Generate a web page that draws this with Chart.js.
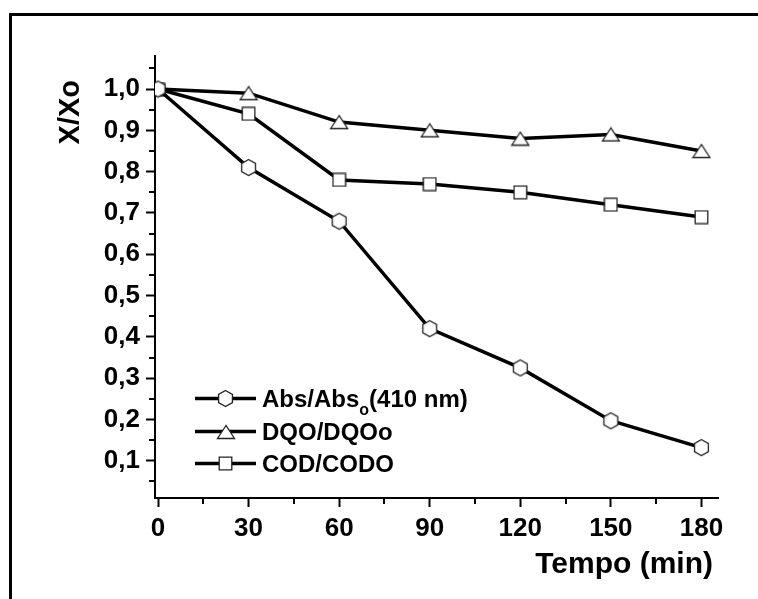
<!DOCTYPE html>
<html>
<head>
<meta charset="utf-8">
<script src="https://cdn.jsdelivr.net/npm/chart.js@4.4.1/dist/chart.umd.min.js"></script>
<style>
  html, body { margin: 0; padding: 0; background: #fff; }
  #wrap { width: 758px; height: 599px; }
</style>
</head>
<body>
<div id="wrap"><canvas id="c" width="758" height="599"></canvas></div>
<script>
// ---- data ----
const times = [0, 30, 60, 90, 120, 150, 180];
const absRatio = [1.0, 0.81, 0.68, 0.42, 0.325, 0.197, 0.132];
const dqoRatio = [1.0, 0.99, 0.92, 0.90, 0.88, 0.89, 0.85];
const codRatio = [1.0, 0.94, 0.78, 0.77, 0.75, 0.72, 0.69];
const seriesLabels = ['Abs/Abs_o(410 nm)', 'DQO/DQOo', 'COD/CODO'];
const xMajorTicks = [0, 30, 60, 90, 120, 150, 180];
const xMinorTicks = [15, 45, 75, 105, 135, 165];
const yMajorTicks = [0.1, 0.2, 0.3, 0.4, 0.5, 0.6, 0.7, 0.8, 0.9, 1.0];
const yMinorTicks = [0.05, 0.15, 0.25, 0.35, 0.45, 0.55, 0.65, 0.75, 0.85, 0.95, 1.05];
const xTitle = 'Tempo (min)';
const yTitle = 'X/Xo';

// ---- marker images ----
function makeCanvas(w, h, draw) {
  const c = document.createElement('canvas');
  c.width = w; c.height = h;
  const g = c.getContext('2d');
  g.fillStyle = '#fff';
  g.strokeStyle = '#222';
  g.lineWidth = 1.3;
  draw(g);
  return c;
}
const hexMarker = makeCanvas(19, 19, g => {
  g.beginPath();
  for (let k = 0; k < 6; k++) {
    const a = -Math.PI / 2 + k * Math.PI / 3;
    const px = 9.5 + 8 * Math.cos(a), py = 9.5 + 8 * Math.sin(a);
    k === 0 ? g.moveTo(px, py) : g.lineTo(px, py);
  }
  g.closePath(); g.fill(); g.stroke();
});
const triMarker = makeCanvas(20, 16, g => {
  g.beginPath();
  g.moveTo(10, 1.5); g.lineTo(1.5, 14.5); g.lineTo(18.5, 14.5);
  g.closePath(); g.fill(); g.stroke();
});
const sqMarker = makeCanvas(15, 15, g => {
  g.beginPath();
  g.rect(1.2, 1.2, 12.6, 12.6);
  g.fill(); g.stroke();
});
const markers = [hexMarker, triMarker, sqMarker];

const toXY = vals => times.map((t, i) => ({ x: t, y: vals[i] }));
const seriesValues = [absRatio, dqoRatio, codRatio];

const FONT = "'Liberation Sans', Arial, Helvetica, sans-serif";

const framePlugin = {
  id: 'frame',
  beforeDraw(chart) {
    const ctx = chart.ctx;
    ctx.save();
    ctx.fillStyle = '#fff';
    ctx.fillRect(0, 0, chart.width, chart.height);
    ctx.fillStyle = '#000';
    ctx.fillRect(9, 13, 3, chart.height - 13);
    ctx.fillRect(9, 13, chart.width - 9, 3);
    ctx.restore();
  }
};

const decoPlugin = {
  id: 'deco',
  afterDraw(chart) {
    const ctx = chart.ctx;
    const xs = chart.scales.x, ys = chart.scales.y;
    const area = chart.chartArea;
    ctx.save();
    // minor ticks
    ctx.strokeStyle = '#000';
    ctx.lineWidth = 2;
    ctx.beginPath();
    xMinorTicks.forEach(v => {
      const px = Math.round(xs.getPixelForValue(v));
      ctx.moveTo(px, area.bottom); ctx.lineTo(px, area.bottom + 6);
    });
    yMinorTicks.forEach(v => {
      const py = Math.round(ys.getPixelForValue(v));
      ctx.moveTo(area.left, py); ctx.lineTo(area.left - 6, py);
    });
    ctx.stroke();

    // axis titles
    ctx.fillStyle = '#000';
    ctx.font = "bold 30px " + FONT;
    ctx.textAlign = 'right';
    ctx.textBaseline = 'alphabetic';
    ctx.fillText(xTitle, area.right - 5, area.bottom + 75);

    ctx.save();
    ctx.translate(area.left - 84, area.top + 24);
    ctx.rotate(-Math.PI / 2);
    ctx.font = "bold 29px " + FONT;
    ctx.textAlign = 'right';
    ctx.textBaseline = 'middle';
    ctx.fillText(yTitle, 0, 0);
    ctx.restore();

    // legend
    const rowsY = [area.bottom - 99.5, area.bottom - 66.5, area.bottom - 34.5];
    seriesLabels.forEach((lab, i) => {
      const y = rowsY[i];
      const x0 = area.left + 40;
      ctx.strokeStyle = '#000';
      ctx.lineWidth = 3.5;
      ctx.beginPath();
      ctx.moveTo(x0, y); ctx.lineTo(x0 + 61, y);
      ctx.stroke();
      const m = markers[i];
      ctx.drawImage(m, Math.round(x0 + 30.5 - m.width / 2), Math.round(y - m.height / 2));
      // text with optional subscript
      let tx = x0 + 67;
      const base = y + 8.6;
      ctx.textAlign = 'left';
      ctx.textBaseline = 'alphabetic';
      ctx.fillStyle = '#000';
      const parts = lab.split('_');
      ctx.font = "bold 24px " + FONT;
      ctx.fillText(parts[0], tx, base);
      tx += ctx.measureText(parts[0]).width;
      if (parts.length > 1) {
        const sub = parts[1].charAt(0);
        const rest = parts[1].slice(1);
        ctx.font = "bold 16px " + FONT;
        ctx.fillText(sub, tx, base + 8);
        tx += ctx.measureText(sub).width;
        ctx.font = "bold 24px " + FONT;
        ctx.fillText(rest, tx, base);
      }
    });
    ctx.restore();
  }
};

new Chart(document.getElementById('c'), {
  type: 'line',
  data: {
    datasets: seriesValues.map((vals, i) => ({
      label: seriesLabels[i],
      data: toXY(vals),
      borderColor: '#000',
      borderWidth: 3.5,
      backgroundColor: '#fff',
      pointStyle: markers[i],
      pointRadius: 8,
      pointHoverRadius: 8,
      tension: 0,
      fill: false
    }))
  },
  options: {
    responsive: false,
    animation: false,
    devicePixelRatio: 1,
    events: [],
    layout: { padding: { left: 0, top: 56, right: 40, bottom: 0 } },
    plugins: { legend: { display: false }, tooltip: { enabled: false } },
    scales: {
      x: {
        type: 'linear',
        min: -1,
        max: 185.5,
        bounds: 'data',
        afterBuildTicks: s => { s.ticks = xMajorTicks.map(v => ({ value: v })); },
        afterFit: s => { s.height = 101; },
        border: { display: true, color: '#000', width: 2 },
        grid: { drawOnChartArea: false, drawTicks: true, tickLength: 9, tickWidth: 2, tickColor: '#000' },
        ticks: {
          autoSkip: false, maxRotation: 0, padding: 6, color: '#000',
          font: { family: FONT, size: 26, weight: 'bold' },
          callback: v => String(v)
        }
      },
      y: {
        type: 'linear',
        min: 0.01,
        max: 1.08,
        bounds: 'data',
        afterBuildTicks: s => { s.ticks = yMajorTicks.map(v => ({ value: v })); },
        afterFit: s => { s.width = 155; },
        border: { display: true, color: '#000', width: 2 },
        grid: { drawOnChartArea: false, drawTicks: true, tickLength: 9, tickWidth: 2, tickColor: '#000' },
        ticks: {
          autoSkip: false, padding: 6, color: '#000',
          font: { family: FONT, size: 26, weight: 'bold' },
          callback: v => v.toFixed(1).replace('.', ',')
        }
      }
    }
  },
  plugins: [framePlugin, decoPlugin]
});
</script>
</body>
</html>
